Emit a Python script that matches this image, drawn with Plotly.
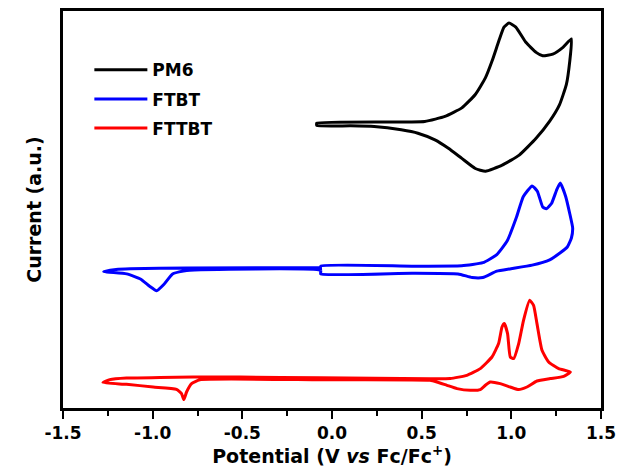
import plotly.graph_objects as go

# PM6 cyclic voltammogram (closed loop), potential in V vs Fc/Fc+, current in a.u.
pm6_v = [-0.085, 0.517, 0.630, 0.724, 0.799, 0.856, 0.893, 0.931, 0.959, 0.987, 1.025, 1.081, 1.138,
         1.175, 1.231, 1.288, 1.335, 1.326, 1.307, 1.269, 1.213, 1.138, 1.044, 0.949, 0.856, 0.799,
         0.724, 0.649, 0.574, 0.479, 0.386, 0.235, 0.104, -0.085, -0.085]
pm6_i = [28.49, 28.66, 29.16, 30.01, 31.35, 33.04, 34.72, 36.74, 38.09, 38.49, 38.09, 36.57, 35.56,
         35.22, 35.39, 36.07, 36.91, 34.72, 32.36, 30.34, 28.66, 26.97, 25.29, 24.28, 23.67, 23.95,
         24.96, 25.97, 26.81, 27.48, 27.82, 28.15, 28.22, 28.25, 28.49]

# FTBT
ftbt_v = [-0.063, -0.063, 0.447, 0.723, 0.841, 0.919, 0.978, 1.028, 1.067, 1.116, 1.145, 1.175, 1.195,
          1.224, 1.254, 1.273, 1.303, 1.325, 1.342, 1.335, 1.312, 1.273, 1.214, 1.116, 0.998, 0.919,
          0.841, 0.781, 0.703, 0.447, -0.063, -0.063, -0.810, -0.889, -0.938, -0.978, -1.017, -1.066,
          -1.145, -1.273, -1.204, -1.125, -0.810, -0.063]
ftbt_i = [13.76, 14.18, 14.18, 14.22, 14.53, 15.34, 16.75, 19.04, 21.15, 22.21, 21.68, 20.10, 19.92,
          20.45, 21.86, 22.49, 21.15, 19.50, 18.00, 17.00, 16.10, 15.52, 14.82, 14.29, 13.93, 13.69,
          13.05, 13.05, 13.41, 13.48, 13.41, 13.76, 13.76, 13.41, 12.35, 11.72, 12.17, 12.88,
          13.41, 13.65, 13.86, 13.93, 14.01, 14.04]

# FTTBT
fttbt_v = [-0.067, 0.547, 0.659, 0.752, 0.827, 0.892, 0.929, 0.948, 0.961, 0.979, 0.994, 1.013, 1.041,
           1.068, 1.102, 1.124, 1.143, 1.171, 1.208, 1.264, 1.329, 1.292, 1.217, 1.143, 1.087, 1.041,
           0.994, 0.938, 0.882, 0.855, 0.827, 0.771, 0.697, 0.641, 0.585, 0.547, -0.067, -0.737,
           -0.783, -0.811, -0.826, -0.839, -0.867, -0.997, -1.146, -1.277, -1.239, -1.146, -0.960,
           -0.774, -0.513, -0.067]
fttbt_i = [3.02, 2.92, 2.94, 3.27, 3.94, 5.10, 6.44, 8.10, 8.44, 7.44, 5.10, 4.94, 6.44,
           8.77, 10.77, 10.27, 8.44, 5.77, 4.60, 3.94, 3.60, 3.17, 2.94, 2.70, 2.10, 1.84,
           2.10, 2.44, 2.60, 2.27, 1.84, 1.77, 1.94, 2.27, 2.60, 2.77, 2.82, 2.82,
           2.44, 1.60, 0.84, 1.44, 1.87, 2.10, 2.37, 2.54, 2.84, 3.00, 3.04,
           3.10, 3.10, 3.02]

tick_vals = [-1.5, -1.0, -0.5, 0.0, 0.5, 1.0, 1.5]
tick_text = ["-1.5", "-1.0", "-0.5", "0.0", "0.5", "1.0", "1.5"]

FONT = "DejaVu Sans, Liberation Sans, Arial, sans-serif"

fig = go.Figure()
for name, xs, ys, col in [("PM6", pm6_v, pm6_i, "#000000"),
                          ("FTBT", ftbt_v, ftbt_i, "#0000ff"),
                          ("FTTBT", fttbt_v, fttbt_i, "#ff0000")]:
    fig.add_trace(go.Scatter(x=xs, y=ys, mode="lines", name=name, legendgroup=name,
                             line=dict(color=col, width=3, shape="spline", smoothing=0.45)))

fig.update_layout(
    width=619, height=475,
    margin=dict(l=63, r=18, t=11, b=67),
    plot_bgcolor="white", paper_bgcolor="white",
    font=dict(family=FONT, color="black"),
    showlegend=True,
    legend=dict(x=0.049, y=0.896, xanchor="left", yanchor="top",
                bgcolor="rgba(0,0,0,0)", borderwidth=0,
                font=dict(family=FONT, size=17, weight="bold"),
                itemwidth=53, traceorder="grouped", tracegroupgap=4),
    xaxis=dict(range=[-1.5, 1.5], tickvals=tick_vals, ticktext=tick_text, automargin=False,
               showline=True, mirror=True, linecolor="black", linewidth=3,
               ticks="outside", ticklen=8, tickwidth=2, tickcolor="black",
               minor=dict(ticks="outside", ticklen=5, tickwidth=2, dtick=0.25, tickcolor="black"),
               showgrid=False, zeroline=False,
               tickfont=dict(family=FONT, size=17, weight="bold"),
               title=dict(text="Potential (V <i>vs</i> Fc/Fc<sup>+</sup>)",
                          font=dict(family=FONT, size=19, weight="bold"), standoff=6)),
    yaxis=dict(range=[0, 39.7], automargin=False, showline=True, mirror=True,
               linecolor="black", linewidth=3,
               ticks="", showticklabels=False, showgrid=False, zeroline=False,
               title=dict(text="Current (a.u.)",
                          font=dict(family=FONT, size=19, weight="bold"), standoff=14)),
)

fig.write_html("out.html")
